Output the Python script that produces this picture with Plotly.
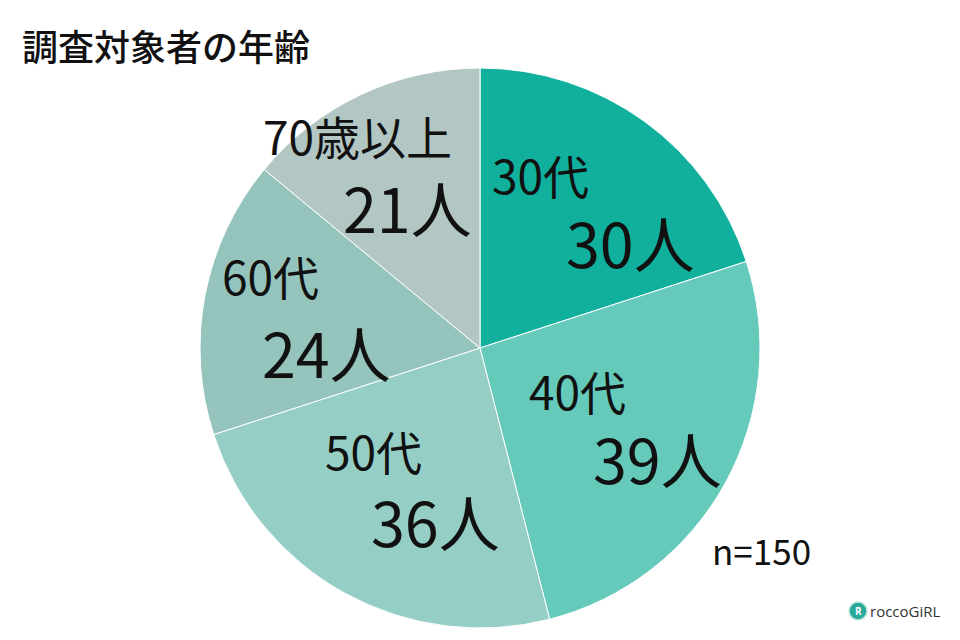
import math
import plotly.graph_objects as go

categories = ["30代", "40代", "50代", "60代", "70歳以上"]
counts = [30, 39, 36, 24, 21]
colors = ["#10b09c", "#66cabb", "#95cec5", "#95c4bd", "#b2c6c4"]
title_text = "調査対象者の年齢"
n_label = "n=150"

W, H = 960, 640
cx, cy, R = 480, 348, 280
# label placement (layout only): radial fraction, horizontal spread, vertical spread, x nudge per slice
label_r = [0.62, 0.56, 0.56, 0.66, 0.70]
label_dx = [90, 80, 62, 56, 50]
label_dy = [68, 68, 70, 76, 72]
label_nudge = [3, 0, 0, 0, -14]

fig = go.Figure(go.Pie(
    labels=categories,
    values=counts,
    sort=False,
    direction="clockwise",
    rotation=0,
    marker=dict(colors=colors, line=dict(color="white", width=1)),
    textinfo="none",
    hoverinfo="label+value",
    showlegend=False,
    domain=dict(x=[(cx - R) / W, (cx + R) / W], y=[(H - cy - R) / H, (H - cy + R) / H]),
))

font_family = "Noto Sans CJK JP, Noto Sans, sans-serif"
total = sum(counts)
cum = 0
annotations = []
for cat, v, rf, ddx, ddy, nx in zip(categories, counts, label_r, label_dx, label_dy, label_nudge):
    mid = (cum + v / 2) / total * 2 * math.pi
    cum += v
    rp = rf * R
    px = cx + rp * math.sin(mid) + nx
    py = cy - rp * math.cos(mid)
    for text, dx, dy, size in [(cat, -ddx / 2, -ddy / 2, 46), (f"{v}人", ddx / 2, ddy / 2, 61)]:
        annotations.append(dict(
            x=(px + dx) / W, y=1 - (py + dy) / H, xref="paper", yref="paper",
            text=text, showarrow=False, xanchor="center", yanchor="middle",
            font=dict(size=size, color="#111111", family=font_family),
        ))

annotations.append(dict(x=20 / W, y=1 - 45 / H, xref="paper", yref="paper", text=title_text,
                        showarrow=False, xanchor="left", yanchor="middle",
                        font=dict(size=36, color="#111111", family=font_family, weight=500)))
annotations.append(dict(x=710 / W, y=1 - 549 / H, xref="paper", yref="paper", text=n_label,
                        showarrow=False, xanchor="left", yanchor="middle",
                        font=dict(size=35, color="#111111", family=font_family)))
annotations.append(dict(x=868 / W, y=1 - 611 / H, xref="paper", yref="paper", text="roccoGiRL",
                        showarrow=False, xanchor="left", yanchor="middle",
                        font=dict(size=15, color="#333333", family="Open Sans, sans-serif")))
annotations.append(dict(x=858 / W, y=1 - 611 / H, xref="paper", yref="paper", text="<b>R</b>",
                        showarrow=False, xanchor="center", yanchor="middle",
                        font=dict(size=10, color="white", family="Open Sans, sans-serif")))

fig.update_layout(
    width=W, height=H,
    margin=dict(l=0, r=0, t=0, b=0),
    paper_bgcolor="white", plot_bgcolor="white",
    annotations=annotations,
    shapes=[dict(type="circle", xref="paper", yref="paper",
                 x0=849 / W, x1=867 / W, y0=1 - 620 / H, y1=1 - 602 / H,
                 fillcolor="#2aa89a", line=dict(color="#bfe6e0", width=1.5), layer="below")],
)

fig.write_html("out.html", config={"displayModeBar": False},
               post_script="document.body.style.margin='0';")
